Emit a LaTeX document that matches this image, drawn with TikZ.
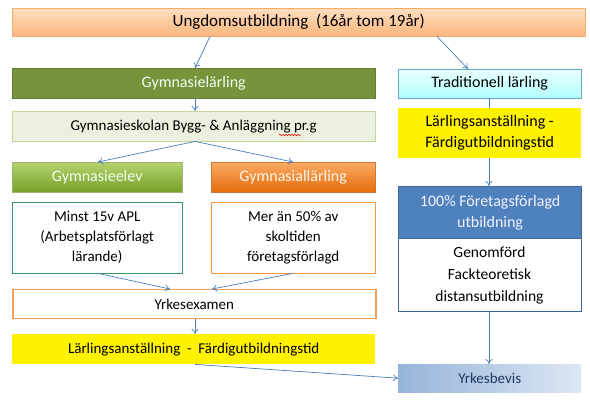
\documentclass[tikz,border=0pt]{standalone}
\usepackage{fontspec}
\setmainfont{Carlito}
\usetikzlibrary{arrows.meta,decorations.pathmorphing}
\definecolor{arr}{HTML}{4A7EBB}
\definecolor{orb}{HTML}{F79646}
\definecolor{gdark}{HTML}{77933C}
\definecolor{bluehd}{HTML}{4F81BD}
\tikzset{
  bx/.style={draw, rectangle, anchor=north west, inner sep=0pt, align=center, font=\fontsize{15}{20}\selectfont},
  conn/.style={draw=arr, line width=0.7pt, -{To[length=5pt,width=7pt]}},
}
\begin{document}
\begin{tikzpicture}[x=1pt,y=-1pt]
\useasboundingbox (0,0) rectangle (590,403);
% top
\node[bx, draw=orb!80, top color=orange!25!white, bottom color=orb!70!white, minimum width=573pt, minimum height=28pt, font=\fontsize{17}{20}\selectfont] (top) at (12,8) {Ungdomsutbildning\ \ (16år tom 19år)};
% Gymnasielärling
\node[bx, draw=gdark!85!black, fill=gdark, text=green!5!white, minimum width=363pt, minimum height=30pt, font=\fontsize{16}{20}\selectfont] (gl) at (12,68) {Gymnasielärling};
% Traditionell
\node[bx, draw={rgb,255:red,100;green,170;blue,200}, top color=cyan!8!white, bottom color=cyan!30!white, minimum width=183pt, minimum height=29pt, font=\fontsize{16}{20}\selectfont] (tl) at (398,69) {Traditionell lärling};
% Gymnasieskolan
\node[bx, draw={rgb,255:red,195;green,214;blue,155}, fill={rgb,255:red,235;green,241;blue,222}, minimum width=363pt, minimum height=30pt] (gs) at (12,111) {Gymnasieskolan Bygg- \& Anläggning pr.g};
\draw[red, line width=0.5pt, decorate, decoration={snake, amplitude=0.8pt, segment length=3pt}] (279,135) -- (301,135);
% yellow right
\node[bx, draw=none, fill=yellow, minimum width=183pt, minimum height=50pt, font=\fontsize{16}{21}\selectfont] (yr) at (398,108) {Lärlingsanställning -\\Färdigutbildningstid};
% Gymnasieelev
\node[bx, draw=gdark!70!white, top color={rgb,255:red,180;green,212;blue,110}, bottom color={rgb,255:red,118;green,160;blue,40}, text=green!5!white, minimum width=170pt, minimum height=30pt, font=\fontsize{16}{20}\selectfont] (ge) at (12,162) {Gymnasieelev};
% Gymnasiallärling
\node[bx, draw=orb!80!black, top color={rgb,255:red,250;green,170;blue,100}, bottom color={rgb,255:red,228;green,108;blue,10}, text=orange!8!white, minimum width=164pt, minimum height=30pt, font=\fontsize{16}{20}\selectfont] (ga) at (211,162) {Gymnasiallärling};
% Minst
\node[bx, draw={rgb,255:red,51;green,153;blue,102}, fill=white, minimum width=170pt, minimum height=71pt] (mi) at (12,202) {Minst 15v APL\\(Arbetsplatsförlagt\\lärande)};
% Mer än
\node[bx, draw=orb, fill=white, minimum width=164pt, minimum height=71pt] (me) at (211,202) {Mer än 50\% av\\skoltiden\\företagsförlagd};
% 100%
\node[bx, draw=bluehd!80!black, line width=1.2pt, fill=white, minimum width=183pt, minimum height=125pt] (fo) at (398,186) {};
\node[bx, draw=bluehd!80!black, line width=1.2pt, fill=bluehd, text=blue!5!white, minimum width=183pt, minimum height=52pt, font=\fontsize{16}{21}\selectfont] (foh) at (398,186) {100\% Företagsförlagd\\utbildning};
\node[anchor=center, align=center, font=\fontsize{15.5}{22}\selectfont] (fob) at (489.5,275) {Genomförd\\Fackteoretisk\\distansutbildning};
% Yrkesexamen
\node[bx, draw=orb!90!white, line width=1.5pt, fill=white, minimum width=363pt, minimum height=29pt] (ye) at (12,289) {Yrkesexamen};
% Lärling bottom
\node[bx, draw=none, fill=yellow, minimum width=363pt, minimum height=30pt] (yl) at (12,334) {Lärlingsanställning\ \ -\ \ Färdigutbildningstid};
% Yrkesbevis
\node[bx, draw=none, left color={rgb,255:red,150;green,180;blue,218}, right color={rgb,255:red,222;green,231;blue,244}, text={rgb,255:red,31;green,56;blue,100}, minimum width=183pt, minimum height=28pt] (yb) at (398,364) {Yrkesbevis};
% connectors
\draw[conn] (top.south -| 210,0) -- (gl.north -| 195,0);
\draw[conn] (top.south -| 437,0) -- (tl.north -| 468,0);
\draw[conn] (gl.south -| 195,0) -- (gs.north -| 195,0);
\draw[conn] (gs.south -| 195,0) -- (ge.north -| 98,0);
\draw[conn] (gs.south -| 195,0) -- (ga.north -| 293,0);
\draw[draw=arr, line width=0.7pt] (tl.south -| 489,0) -- (yr.north -| 489,0);
\draw[conn] (yr.south -| 489,0) -- (foh.north -| 489,0);
\draw[conn] (fo.south -| 489,0) -- (yb.north -| 489,0);
\draw[conn] (mi.south -| 98,0) -- (ye.north -| 170,0);
\draw[conn] (me.south -| 293,0) -- (ye.north -| 212,0);
\draw[conn] (ye.south -| 195,0) -- (yl.north -| 195,0);
\draw[conn] (yl.south -| 195,0) -- (yb.west);
\end{tikzpicture}
\end{document}
